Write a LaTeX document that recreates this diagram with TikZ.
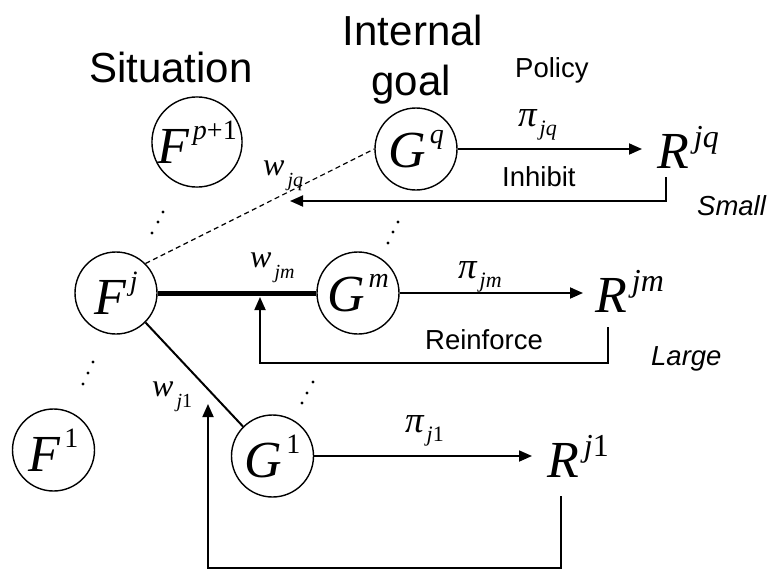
\documentclass[tikz,border=0pt]{standalone}
\usepackage{fontspec}
\setmainfont{Liberation Sans}
\newfontfamily\tms{Liberation Serif}
\usetikzlibrary{arrows.meta}
\newcommand\fsz[1]{\fontsize{#1}{#1}\selectfont}
\newcommand\csym[2]{{\tms\itshape\fsz{52}#1\kern4pt\raisebox{24pt}{\fsz{28}#2}}}
\newcommand\rsym[2]{{\tms\itshape\fsz{52}#1\kern5pt\raisebox{21pt}{\fsz{32}#2}}}
\newcommand\pisym[1]{{\tms\itshape\fsz{37}π\kern3pt\raisebox{-9pt}{\fsz{22}#1}}}
\newcommand\wsym[1]{{\tms\itshape\fsz{32}w\kern3pt\raisebox{-11pt}{\fsz{20}#1}}}
\begin{document}
\begin{tikzpicture}[x=1pt,y=-1pt,
  circ/.style={draw, circle, line width=1.4pt, minimum size=82pt, inner sep=0pt},
  txt/.style={inner sep=0pt, anchor=base west},
  big/.style={txt, font=\fsz{42}},
  small/.style={txt, font=\fsz{27.5}},
  arr/.style={line width=1.8pt, -{Triangle[length=13pt,width=11pt]}},
  dot/.style={fill=black}]
\useasboundingbox (0,0) rectangle (768,570);
% headings
\node[big] (sit) at (89,82) {Situation};
\node[big, anchor=base] (int) at (413,45) {Internal};
\node[big, anchor=base] (goal) at (411,95) {goal};
\node[small] (pol) at (515,77) {Policy};
% circles
\node[circ] (Fp) at (197,142) {\csym{F}{p\textup{+1}}};
\node[circ] (Gq) at (416,149) {\csym{G}{q}};
\node[circ] (Fj) at (116,293) {\csym{F}{j}};
\node[circ] (Gm) at (358,293) {\csym{G}{m}};
\node[circ] (F1) at (53.5,450) {\csym{F}{\textup{1}}};
\node[circ] (G1) at (272.5,456) {\csym{G}{\textup{1}}};
% rewards
\node[txt] (Rjq) at (657,168) {\rsym{R}{jq}};
\node[txt] (Rjm) at (595,312) {\rsym{R}{jm}};
\node[txt] (Rj1) at (547,477) {\rsym{R}{j\textup{1}}};
% policy arrows
\draw[arr] (Gq.east) -- ([xshift=-15pt]Rjq.west |- Gq.east);
\draw[arr] (Gm.east) -- ([xshift=-12pt]Rjm.west |- Gm.east);
\draw[arr] (G1.east) -- ([xshift=-15pt]Rj1.west |- G1.east);
\node[txt] (piq) at (518,126) {\pisym{jq}};
\node[txt] (pim) at (458,278) {\pisym{jm}};
\node[txt] (pi1) at (405,432) {\pisym{j\textup{1}}};
% weights
\draw[line width=1.2pt, dash pattern=on 5pt off 3.5pt] (Fj.45) -- (Gq.west);
\draw[line width=5pt] (Fj.east) -- (Gm.west);
\draw[line width=2pt] (Fj.-45) -- (G1.135);
\node[txt] (wq) at (263,175) {\wsym{jq}};
\node[txt] (wm) at (250,267) {\wsym{jm}};
\node[txt] (w1) at (152,396) {\wsym{j\textup{1}}};
% feedback
\coordinate (inhTip) at (290,201);
\coordinate (reiTip) at (260,297);
\coordinate (botTip) at (208,404);
\draw[arr] (Rjq.south west) ++(9,9) |- (inhTip);
\draw[arr] (Rjm.south west) ++(13,15) -- ++(0,36) -| (reiTip);
\draw[arr] (Rj1.south west) ++(14,19) -- ++(0,72) -| (botTip);
\node[small] (inh) at (502,186) {Inhibit};
\node[small] (rei) at (425,349) {Reinforce};
\node[small, font=\fsz{27.5}\itshape] (sml) at (697,215) {Small};
\node[small, font=\fsz{27.5}\itshape] (lrg) at (651,365) {Large};
% ellipses
\foreach \x/\y in {163/212,158/222,152/233, 398/222,393/232,388/243, 93/362,88/373,83/384, 313/382,307/393,302/403}
  \fill[dot] (\x,\y) circle (1.6);
\end{tikzpicture}
\end{document}
